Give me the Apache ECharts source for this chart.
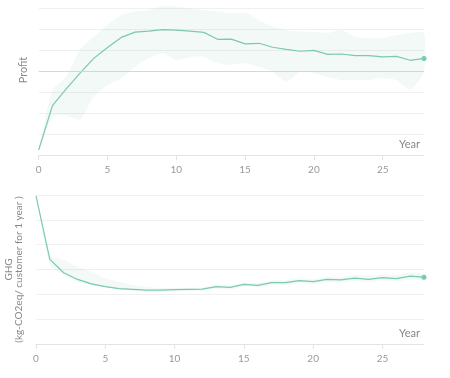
<!DOCTYPE html>
<html>
<head>
<meta charset="utf-8">
<script src="https://cdn.jsdelivr.net/npm/echarts@6/dist/echarts.min.js"></script>
<style>
  html, body { margin: 0; padding: 0; background: #fff; }
  #chart { width: 450px; height: 378px; }
</style>
</head>
<body>
<div id="chart"></div>
<script>
// years 0..28
const years = [0, 1, 2, 3, 4, 5, 6, 7, 8, 9, 10, 11, 12, 13, 14, 15, 16, 17, 18, 19, 20, 21, 22, 23, 24, 25, 26, 27, 28];

// profit (axis units, labels hidden in the picture)
const profitMean = [-3.76, -1.65, -0.85, -0.1, 0.6, 1.12, 1.6, 1.85, 1.9, 1.97, 1.95, 1.9, 1.84, 1.51, 1.52, 1.29, 1.32, 1.13, 1.03, 0.94, 0.98, 0.79, 0.81, 0.73, 0.73, 0.67, 0.7, 0.51, 0.6];
const profitUpper = [-3.76, -0.9, -0.27, 1.0, 1.63, 2.19, 2.67, 2.82, 2.9, 3.1, 3.06, 2.98, 2.9, 2.82, 2.75, 2.78, 2.43, 2.11, 1.95, 1.87, 1.87, 1.81, 1.95, 1.63, 1.57, 1.57, 1.71, 1.81, 1.81];
const profitLower = [-3.76, -2.2, -2.1, -2.33, -1.22, -0.67, -0.33, 0.2, 0.62, 0.86, 0.52, 0.67, 0.67, 0.38, 0.29, 0.38, 0.2, -0.03, -0.51, -0.03, -0.1, -0.29, -0.43, -0.43, -0.43, -0.33, -0.43, -0.9, -0.03];

// GHG (axis units)
const ghgMean = [5.96, 3.41, 2.87, 2.6, 2.42, 2.31, 2.23, 2.2, 2.17, 2.17, 2.19, 2.2, 2.21, 2.31, 2.28, 2.4, 2.36, 2.47, 2.47, 2.55, 2.51, 2.6, 2.58, 2.65, 2.6, 2.67, 2.63, 2.73, 2.69];
const ghgUpper = [5.96, 3.58, 3.38, 3.11, 2.9, 2.66, 2.5, 2.38, 2.3, 2.26, 2.26, 2.27, 2.28, 2.38, 2.36, 2.48, 2.45, 2.56, 2.56, 2.64, 2.61, 2.7, 2.68, 2.78, 2.74, 2.8, 2.78, 2.88, 2.82];
const ghgLower = [5.96, 3.18, 2.78, 2.5, 2.38, 2.3, 2.2, 2.13, 2.1, 2.1, 2.12, 2.13, 2.14, 2.22, 2.2, 2.32, 2.28, 2.38, 2.38, 2.46, 2.42, 2.5, 2.48, 2.54, 2.5, 2.56, 2.52, 2.6, 2.58];

const lineColor = '#7bc8b4';
const bandColor = 'rgba(123, 200, 180, 0.1)';
const labelColor = '#999';

function pairs(ys) {
  return years.map((x, i) => [x, ys[i]]);
}
function meanData(ys) {
  const d = pairs(ys);
  const last = d.length - 1;
  return d.map((p, i) => i === last
    ? { value: p, symbol: 'circle', symbolSize: 5 }
    : { value: p, symbol: 'none' });
}
// band drawn as one polygon through the axis scales
function bandSeries(idx, upper, lower) {
  return {
    type: 'custom', xAxisIndex: idx, yAxisIndex: idx, silent: true, z: 1,
    data: [[0, 0]],
    renderItem: function (params, api) {
      const pts = [];
      years.forEach((x, i) => pts.push(api.coord([x, upper[i]])));
      for (let i = years.length - 1; i >= 0; i--) pts.push(api.coord([years[i], lower[i]]));
      return {
        type: 'polygon',
        shape: { points: pts, smooth: 0.2 },
        style: { fill: bandColor, stroke: null }
      };
    }
  };
}

const xAxisBase = {
  type: 'value',
  min: 0,
  max: 28,
  interval: 5,
  name: 'Year',
  nameLocation: 'end',
  nameGap: -4,
  nameTextStyle: {
    color: '#888', fontSize: 11, fontFamily: 'Lato',
    align: 'right', verticalAlign: 'bottom', padding: [0, 0, 5, 0]
  },
  axisLine: { onZero: false, lineStyle: { color: '#e3e3e3' } },
  axisTick: { length: 5, lineStyle: { color: '#e3e3e3' } },
  axisLabel: { color: labelColor, fontSize: 10, fontFamily: 'Lato', margin: 10, showMaxLabel: false },
  splitLine: { show: false }
};

const yAxisBase = {
  type: 'value',
  interval: 1,
  axisLine: { show: false },
  axisTick: { show: false },
  axisLabel: { show: false },
  splitLine: { lineStyle: { color: '#f0f0f0' } }
};

const chart = echarts.init(document.getElementById('chart'), null, { renderer: 'canvas' });

chart.setOption({
  animation: false,
  grid: [
    { left: 38.7, right: 26, top: 8, bottom: 223, containLabel: false, outerBoundsMode: 'none' },
    { left: 36, right: 26, top: 195, bottom: 34, containLabel: false, outerBoundsMode: 'none' }
  ],
  xAxis: [
    Object.assign({}, xAxisBase, { gridIndex: 0 }),
    Object.assign({}, xAxisBase, { gridIndex: 1 })
  ],
  yAxis: [
    Object.assign({}, yAxisBase, {
      gridIndex: 0, min: -4, max: 3,
      name: 'Profit', nameLocation: 'middle', nameGap: 10,
      nameTextStyle: { color: '#888', fontSize: 11, fontFamily: 'Lato', padding: [0, 0, 0, 23] }
    }),
    Object.assign({}, yAxisBase, {
      gridIndex: 1, min: 0, max: 6,
      name: 'GHG\n(kg-CO2eq/ customer for 1 year )', nameLocation: 'middle', nameGap: 12,
      nameTextStyle: { color: '#888', fontSize: 10, fontFamily: 'Lato', lineHeight: 10 }
    })
  ],
  series: [
    bandSeries(0, profitUpper, profitLower),
    {
      type: 'line', xAxisIndex: 0, yAxisIndex: 0, data: meanData(profitMean), z: 3,
      showSymbol: true, lineStyle: { color: lineColor, width: 1.2 }, itemStyle: { color: lineColor },
      markLine: {
        silent: true, symbol: 'none', label: { show: false },
        lineStyle: { color: '#d6d6d6', type: 'solid', width: 1 },
        data: [{ yAxis: 0 }]
      }
    },
    bandSeries(1, ghgUpper, ghgLower),
    {
      type: 'line', xAxisIndex: 1, yAxisIndex: 1, data: meanData(ghgMean), z: 3,
      showSymbol: true, lineStyle: { color: lineColor, width: 1.2 }, itemStyle: { color: lineColor }
    }
  ]
});
</script>
</body>
</html>
